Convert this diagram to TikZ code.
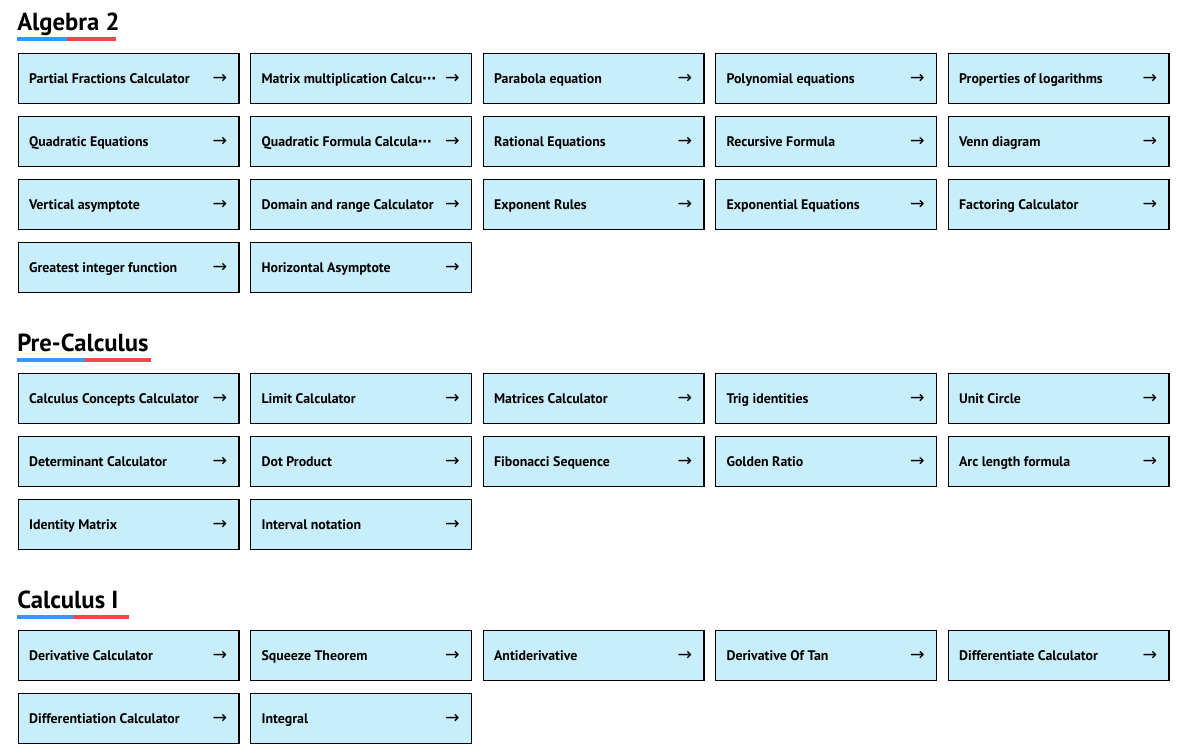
\documentclass[tikz,border=0pt]{standalone}
\usepackage{fontspec}
\setmainfont{PT Sans}
\newfontfamily\djfont{DejaVu Sans}
\definecolor{boxfill}{HTML}{C9EEFB}
\definecolor{ublue}{HTML}{3399FF}
\definecolor{ured}{HTML}{F04848}
\begin{document}
\begin{tikzpicture}[x=0.75pt,y=-0.75pt,
  card/.style={draw=black,line width=0.8pt,fill=boxfill,minimum width=165.7pt,minimum height=37.7pt,anchor=north west,inner sep=0pt},
  lbl/.style={anchor=base west,font=\bfseries\fontsize{10.4}{12}\selectfont,inner sep=0pt},
  arr/.style={anchor=base east,font=\djfont\fontsize{13}{14}\selectfont,inner sep=0pt},
  head/.style={anchor=base west,font=\bfseries\fontsize{18.5}{20}\selectfont,inner sep=0pt}]
\useasboundingbox (0,0) rectangle (1183,754);
\newcommand\card[4]{% name, col, y, text
  \pgfmathsetmacro\cx{17.5+232.5*(#2)}
  \node[card] (#1) at (\cx,#3+0.5) {};
  \node[lbl] (#1t) at ([xshift=8.5pt,yshift=-4.3pt]#1.west) {#4};
  \node[arr] (#1a) at ([xshift=-9pt,yshift=-3.9pt]#1.east) {→};}
\newcommand\heading[5]{% name, y, text, blue end, red end
  \node[head] (#1) at (17,#2) {#3};
  \draw[ublue,line width=3pt] (17,#2+8.5) -- (#4,#2+8.5);
  \draw[ured,line width=3pt] (#4,#2+8.5) -- (#5,#2+8.5);}
\heading{h1}{30.5}{Algebra 2}{67}{116}
\card{a1}{0}{52}{Partial Fractions Calculator}
\card{a2}{1}{52}{Matrix multiplication Calcu{\djfont ⋯}}
\card{a3}{2}{52}{Parabola equation}
\card{a4}{3}{52}{Polynomial equations}
\card{a5}{4}{52}{Properties of logarithms}
\card{a6}{0}{115}{Quadratic Equations}
\card{a7}{1}{115}{Quadratic Formula Calcula{\djfont ⋯}}
\card{a8}{2}{115}{Rational Equations}
\card{a9}{3}{115}{Recursive Formula}
\card{a10}{4}{115}{Venn diagram}
\card{a11}{0}{178}{Vertical asymptote}
\card{a12}{1}{178}{Domain and range Calculator}
\card{a13}{2}{178}{Exponent Rules}
\card{a14}{3}{178}{Exponential Equations}
\card{a15}{4}{178}{Factoring Calculator}
\card{a16}{0}{241}{Greatest integer function}
\card{a17}{1}{241}{Horizontal Asymptote}
\heading{h2}{351.5}{Pre-Calculus}{85}{151}
\card{p1}{0}{372}{Calculus Concepts Calculator}
\card{p2}{1}{372}{Limit Calculator}
\card{p3}{2}{372}{Matrices Calculator}
\card{p4}{3}{372}{Trig identities}
\card{p5}{4}{372}{Unit Circle}
\card{p6}{0}{435}{Determinant Calculator}
\card{p7}{1}{435}{Dot Product}
\card{p8}{2}{435}{Fibonacci Sequence}
\card{p9}{3}{435}{Golden Ratio}
\card{p10}{4}{435}{Arc length formula}
\card{p11}{0}{498}{Identity Matrix}
\card{p12}{1}{498}{Interval notation}
\heading{h3}{608.5}{Calculus I}{73}{129}
\card{c1}{0}{629}{Derivative Calculator}
\card{c2}{1}{629}{Squeeze Theorem}
\card{c3}{2}{629}{Antiderivative}
\card{c4}{3}{629}{Derivative Of Tan}
\card{c5}{4}{629}{Differentiate Calculator}
\card{c6}{0}{692}{Differentiation Calculator}
\card{c7}{1}{692}{Integral}
\end{tikzpicture}
\end{document}
